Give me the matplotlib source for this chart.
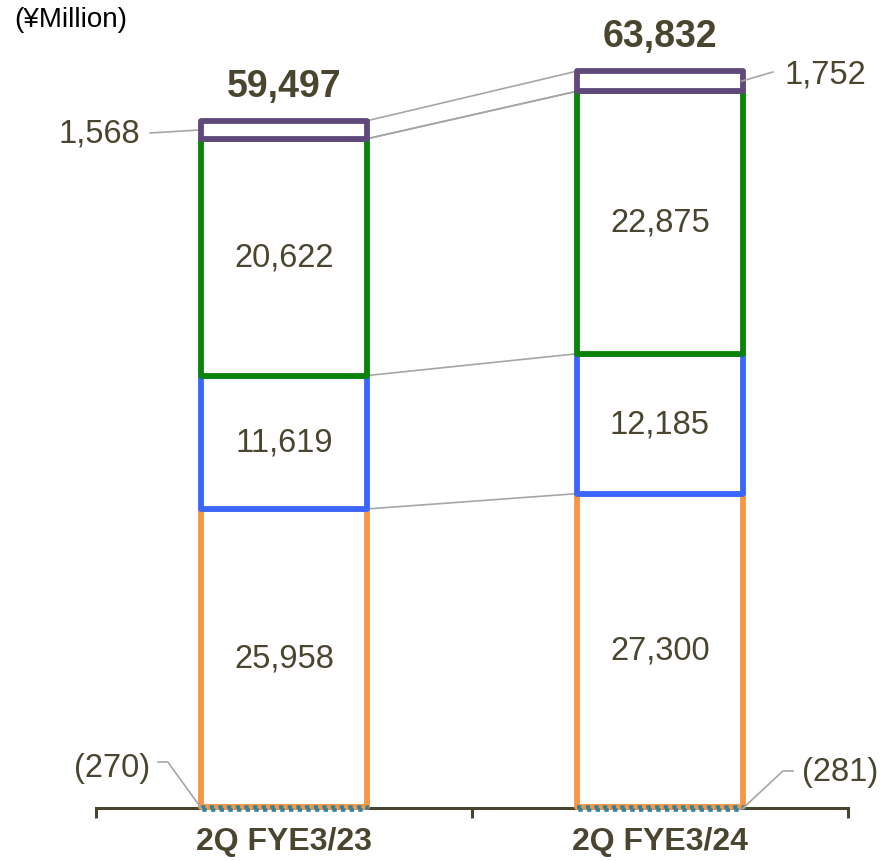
import matplotlib.pyplot as plt

plt.rcParams['font.family'] = ['Liberation Sans', 'DejaVu Sans']

categories = ['2Q FYE3/23', '2Q FYE3/24']
seg_a = [25958, 27300]   # orange
seg_b = [11619, 12185]   # blue
seg_c = [20622, 22875]   # green
seg_d = [1568, 1752]     # purple
seg_neg = [-270, -281]   # teal dotted
totals = [59497, 63832]

txt = '#4A452F'
grey = '#A6A6A6'
colors = ['#F79646', '#3A66FF', '#0A830A', '#604A7B']
w = 0.439

fig = plt.figure(figsize=(8.82, 8.62), dpi=100)
ax = fig.add_axes([96 / 882, 0, 752 / 882, 1])
ax.set_xlim(-0.5, 1.5)
ax.set_ylim(-4704, 70383)

x = [0, 1]
bottoms = [0, 0]
tops = []
for vals, c in zip([seg_a, seg_b, seg_c, seg_d], colors):
    ax.bar(x, vals, w, bottom=bottoms, facecolor='white', edgecolor=c,
           linewidth=4.2, joinstyle='round', zorder=3)
    if c != colors[3]:
        for i in range(2):
            ax.text(x[i], bottoms[i] + vals[i] / 2, f'{vals[i]:,}', ha='center', va='center',
                    fontsize=23.5, color=txt, zorder=5)
    bottoms = [b + v for b, v in zip(bottoms, vals)]
    tops.append(list(bottoms))

ax.bar(x, seg_neg, w, facecolor='none', edgecolor='#31849B', linewidth=2.6,
       linestyle=(0, (1.2, 1.2)), zorder=4)

# connector lines between the bars
for t in tops:
    ax.plot([x[0] + w / 2, x[1] - w / 2], [t[0], t[1]], color=grey, lw=1.2, zorder=1)
ax.plot([x[0] + w / 2, x[1] - w / 2], [tops[2][0], tops[2][1]], color=grey, lw=1.2, zorder=1)

# totals
for i in range(2):
    ax.annotate(f'{totals[i]:,}', (x[i], tops[3][i]), xytext=(0, 12), textcoords='offset points',
                ha='center', va='bottom', fontsize=27, fontweight='bold', color=txt)

# small purple labels
mid1 = tops[2][0] + seg_d[0] / 2
mid2 = tops[2][1] + seg_d[1] / 2
ax.plot([-0.356, x[0] - w / 2], [58711, mid1], color=grey, lw=1.2, zorder=1)
ax.text(-0.383, 58711, f'{seg_d[0]:,}', ha='right', va='center', fontsize=23.5, color=txt)
ax.plot([1.300, 1.218], [64024, mid2], color=grey, lw=1.2, zorder=4)
ax.text(1.332, 63850, f'{seg_d[1]:,}', ha='left', va='center', fontsize=23.5, color=txt)

# negative labels
ax.plot([-0.335, -0.309, x[0] - w / 2], [3920, 3920, seg_neg[0] / 2], color=grey, lw=1.2, zorder=4)
ax.text(-0.356, 3484, f'({-seg_neg[0]})', ha='right', va='center', fontsize=23.5, color=txt)
ax.plot([1.354, 1.327, x[1] + w / 2], [3136, 3136, seg_neg[1] / 2], color=grey, lw=1.2, zorder=4)
ax.text(1.378, 3049, f'({-seg_neg[1]})', ha='left', va='center', fontsize=23.5, color=txt)

for s in ['top', 'right', 'left']:
    ax.spines[s].set_visible(False)
ax.spines['bottom'].set_position(('data', -120))
ax.spines['bottom'].set_color(txt)
ax.spines['bottom'].set_linewidth(2.2)
ax.spines['bottom'].set_zorder(2.5)
ax.set_yticks([])
ax.set_xticks(x)
ax.set_xticklabels(categories, fontsize=23, fontweight='bold', color=txt)
ax.tick_params(axis='x', which='major', length=0, pad=13)
ax.set_xticks([-0.5, 0.5, 1.5], minor=True)
ax.tick_params(axis='x', which='minor', length=7, width=2.2, color=txt, direction='out')
ax.patch.set_alpha(0)

fig.text(14 / 882, 1 - 20 / 862, '(¥Million)', ha='left', va='center', fontsize=20, color='black')

fig.savefig('out.png', dpi=100)
